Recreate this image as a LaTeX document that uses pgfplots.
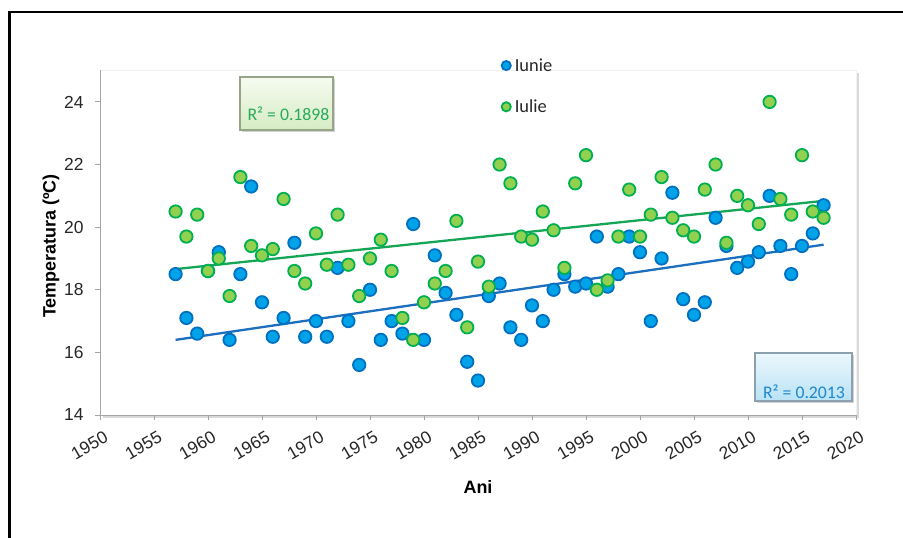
\documentclass[border=0pt]{standalone}
\usepackage{pgfplots}
\pgfplotsset{compat=1.18}
\usepackage{pgfplotstable}
\usepackage{fontspec}
\setmainfont{Liberation Sans}
\newfontfamily\carlito{Carlito}
\usetikzlibrary{shadows}

\definecolor{iunieFill}{RGB}{0,162,232}
\definecolor{iunieEdge}{RGB}{0,112,192}
\definecolor{iulieFill}{RGB}{146,208,80}
\definecolor{iulieEdge}{RGB}{0,176,80}
\definecolor{iunieLine}{RGB}{28,110,190}
\definecolor{iulieLine}{RGB}{20,165,85}
\definecolor{axgray}{RGB}{165,165,165}
\definecolor{rgreen}{RGB}{40,170,90}
\definecolor{rblue}{RGB}{30,135,205}

\pgfplotsset{dotlegend/.style={legend image code/.code={\draw[##1, mark size=4.6bp] plot coordinates {(0bp,0bp)};}}}

\pgfplotstableread{
year iunie iulie
1957 18.5 20.5
1958 17.1 19.7
1959 16.6 20.4
1960 18.6 18.6
1961 19.2 19.0
1962 16.4 17.8
1963 18.5 21.6
1964 21.3 19.4
1965 17.6 19.1
1966 16.5 19.3
1967 17.1 20.9
1968 19.5 18.6
1969 16.5 18.2
1970 17.0 19.8
1971 16.5 18.8
1972 18.7 20.4
1973 17.0 18.8
1974 15.6 17.8
1975 18.0 19.0
1976 16.4 19.6
1977 17.0 18.6
1978 16.6 17.1
1979 20.1 16.4
1980 16.4 17.6
1981 19.1 18.2
1982 17.9 18.6
1983 17.2 20.2
1984 15.7 16.8
1985 15.1 18.9
1986 17.8 18.1
1987 18.2 22.0
1988 16.8 21.4
1989 16.4 19.7
1990 17.5 19.6
1991 17.0 20.5
1992 18.0 19.9
1993 18.5 18.7
1994 18.1 21.4
1995 18.2 22.3
1996 19.7 18.0
1997 18.1 18.3
1998 18.5 19.7
1999 19.7 21.2
2000 19.2 19.7
2001 17.0 20.4
2002 19.0 21.6
2003 21.1 20.3
2004 17.7 19.9
2005 17.2 19.7
2006 17.6 21.2
2007 20.3 22.0
2008 19.4 19.5
2009 18.7 21.0
2010 18.9 20.7
2011 19.2 20.1
2012 21.0 24.0
2013 19.4 20.9
2014 18.5 20.4
2015 19.4 22.3
2016 19.8 20.5
2017 20.7 20.3
}\datatable

\begin{document}
\begin{tikzpicture}
\useasboundingbox (0,0) rectangle (903bp,538bp);
\draw[line width=2.3bp] (9.5bp,0) -- (9.5bp,526bp) -- (903bp,526bp);
\begin{axis}[
  at={(100bp,123bp)}, anchor=south west,
  scale only axis, width=756bp, height=345bp,
  xmin=1950, xmax=2020, ymin=14, ymax=25.02,
  xtick={1950,1955,...,2020}, ytick={14,16,...,24},
  axis lines*=left,
  axis line style={axgray, line width=0.9bp},
  tick style={axgray, line width=0.9bp},
  major tick length=5bp, tick align=outside,
  axis background/.style={fill=white, draw=black!5, drop shadow={shadow xshift=3bp, shadow yshift=-3bp, opacity=0.3}},
  /pgf/number format/assume math mode=true,
  /pgf/number format/1000 sep={},
  xticklabel style={rotate=30, anchor=north east, font=\fontsize{17.5}{20}\selectfont, text=black!85, yshift=-7bp, xshift=1bp},
  yticklabel style={font=\fontsize{17.5}{20}\selectfont, text=black!85, xshift=-8bp},
  every axis y label/.style={at={(axis description cs:-0.0648,0.49)}, rotate=90, anchor=center, font=\bfseries\fontsize{18}{21}\selectfont},
  every axis x label/.style={at={(axis description cs:0.5,-0.209)}, anchor=center, font=\bfseries\fontsize{18}{21}\selectfont},
  ylabel={Temperatura (ºC)}, xlabel={Ani},
  legend style={at={(axis description cs:0.531,0.953)}, anchor=west, draw=none, fill=none, inner sep=0pt, row sep=24bp, font=\carlito\fontsize{18.5}{21}\selectfont, text=black!85, nodes={inner sep=1.5bp}, /tikz/every odd column/.append style={column sep=2.5bp}},
  legend cell align=left,
  clip=false,
]
\addplot[only marks, mark=*, mark size=6.2bp, mark options={fill=iunieFill, draw=iunieEdge, line width=1.8bp}, dotlegend] table[x=year, y=iunie]{\datatable};
\addlegendentry{Iunie}
\addplot[only marks, mark=*, mark size=6.2bp, mark options={fill=iulieFill, draw=iulieEdge, line width=1.8bp}, dotlegend] table[x=year, y=iulie]{\datatable};
\addlegendentry{Iulie}
% trendlines as drawn in the reference
\addplot[iunieLine, line width=2.3bp, no marks, forget plot] coordinates {(1957,16.40) (2017,19.44)};
\addplot[iulieLine, line width=2.3bp, no marks, forget plot] coordinates {(1957,18.66) (2017,20.84)};
\end{axis}
\node[draw={rgb,255:red,150;green,165;blue,135}, line width=1.5bp, top color={rgb,255:red,246;green,251;blue,240}, bottom color={rgb,255:red,214;green,236;blue,196}, minimum width=93bp, minimum height=53bp, inner sep=0pt, drop shadow={shadow xshift=2bp, shadow yshift=-2bp, opacity=0.35}] at (286.5bp,434.5bp) {};
\node[text=rgreen, font=\carlito\fontsize{17.8}{20}\selectfont, inner sep=0pt] at (288.5bp,424bp) {R² = 0.1898};
\node[draw={rgb,255:red,140;green,160;blue,175}, line width=1.5bp, top color={rgb,255:red,236;green,248;blue,253}, bottom color={rgb,255:red,184;green,226;blue,244}, minimum width=97bp, minimum height=48bp, inner sep=0pt, drop shadow={shadow xshift=2bp, shadow yshift=-2bp, opacity=0.35}] at (803.5bp,161bp) {};
\node[text=rblue, font=\carlito\fontsize{17.8}{20}\selectfont, inner sep=0pt] at (804bp,146bp) {R² = 0.2013};
\end{tikzpicture}
\end{document}
